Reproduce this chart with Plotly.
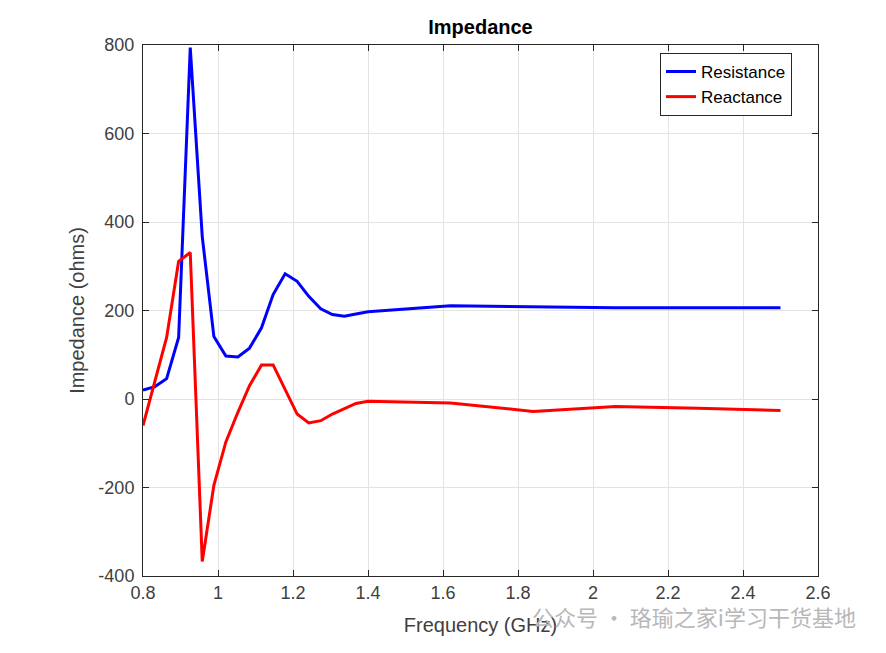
import plotly.graph_objects as go

freq_ghz = [0.8, 0.832, 0.863, 0.895, 0.926, 0.958, 0.989, 1.021, 1.053, 1.084,
            1.116, 1.147, 1.179, 1.211, 1.242, 1.274, 1.305, 1.337, 1.368, 1.4,
            1.62, 1.84, 2.06, 2.28, 2.5]
resistance = [20, 28, 46, 139, 794, 367, 141, 97, 95, 115,
              161, 236, 283, 266, 232, 204, 191, 187, 192, 197,
              211, 208, 206, 206, 206]
reactance = [-60, 40, 139, 311, 331, -367, -195, -97, -30, 30,
             77, 77, 20, -34, -54, -49, -34, -21, -10, -5,
             -9, -28, -17, -21, -26]

x_ticks = [0.8, 1, 1.2, 1.4, 1.6, 1.8, 2, 2.2, 2.4, 2.6]
y_ticks = [-400, -200, 0, 200, 400, 600, 800]

fig = go.Figure()
fig.add_trace(go.Scatter(x=freq_ghz, y=resistance, mode="lines", name="Resistance",
                         line=dict(color="#0000ff", width=3)))
fig.add_trace(go.Scatter(x=freq_ghz, y=reactance, mode="lines", name="Reactance",
                         line=dict(color="#ff0000", width=3)))

axis_style = dict(showline=True, linecolor="#262626", linewidth=1, mirror="ticks",
                  ticks="inside", ticklen=6, tickcolor="#262626",
                  showgrid=True, gridcolor="#e3e3e3", gridwidth=1, zeroline=False,
                  tickfont=dict(size=18, color="#404040"))

fig.update_xaxes(range=[0.8, 2.6], tickvals=x_ticks,
                 ticktext=[f"{v:g}" for v in x_ticks],
                 title=dict(text="Frequency (GHz)", font=dict(size=20, color="#404040"), standoff=16),
                 **axis_style)
fig.update_yaxes(range=[-400, 800], tickvals=y_ticks,
                 ticktext=[str(v) for v in y_ticks], ticklabelstandoff=4,
                 title=dict(text="Impedance (ohms)", font=dict(size=20, color="#404040"), standoff=8),
                 **axis_style)

# page body has an 8px margin, so the figure is sized 16px smaller than the window
fig.update_layout(
    width=870, height=637,
    margin=dict(l=135, r=60, t=37, b=65),
    paper_bgcolor="white", plot_bgcolor="white",
    font=dict(family="Liberation Sans, Arial, sans-serif", color="#262626"),
    title=dict(text="<b>Impedance</b>", x=(135 + 810) / 2 / 870, xanchor="center",
               y=1 - 19 / 637, yanchor="middle", font=dict(size=20, color="#000000")),
    legend=dict(x=0.9615, y=0.985, xanchor="right", yanchor="top",
                bgcolor="white", bordercolor="#262626", borderwidth=1,
                font=dict(size=17, color="#000000"), tracegroupgap=0),
    showlegend=True,
)

fig.add_annotation(text="公众号 · 珞瑜之家i学习干货基地", xref="paper", yref="paper",
                   x=1.059, y=-0.075, xanchor="right", yanchor="middle", showarrow=False,
                   font=dict(family="Noto Sans CJK SC", size=22, color="#b8b8b8"))

fig.write_html("out.html")
